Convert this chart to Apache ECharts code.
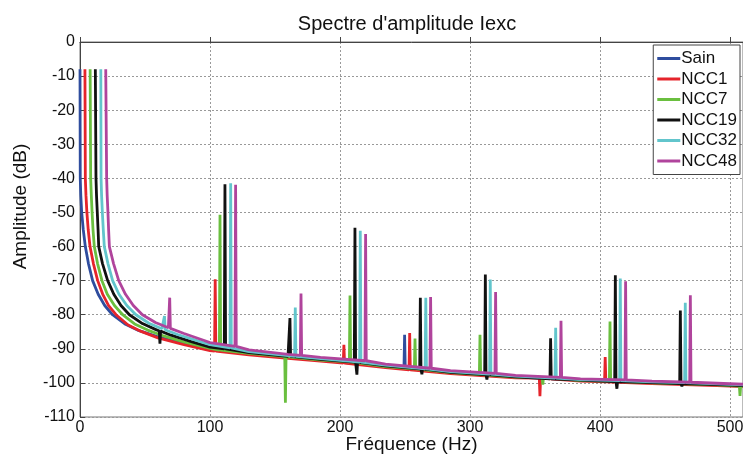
<!DOCTYPE html>
<html>
<head>
<meta charset="utf-8">
<script src="https://cdn.jsdelivr.net/npm/echarts@6/dist/echarts.min.js"></script>
<style>
  html, body { margin: 0; padding: 0; background: #fff; }
  #chart { width: 743px; height: 457px; }
</style>
</head>
<body>
<div id="chart"></div>
<script>
// libellés
const seriesNames = ['Sain', 'NCC1', 'NCC7', 'NCC19', 'NCC32', 'NCC48'];
const seriesColors = ['#2f4d9e', '#e5242b', '#6abf3f', '#111111', '#62c5cc', '#b0449c'];
const xTicks = [0, 100, 200, 300, 400, 500];
const yTicks = [0, -10, -20, -30, -40, -50, -60, -70, -80, -90, -100, -110];

// courbes de fond [f (Hz), dB]
const sainBase = [[0,-8],[0.2,-40],[0.6,-45],[1.3,-50],[2.5,-55],[4.1,-60],[6.5,-65],[9.7,-70],[14,-74],[19,-77.3],[25,-80],[35,-82.8],[45,-84.6],[60,-86.5],[80,-88.5],[100,-90.2],[130,-91.5],[160,-92.5],[185,-93.3],[235,-95.2],[285,-97],[335,-98.2],[385,-99.2],[440,-99.9],[490,-100.5],[510,-100.8]];
const ncc1Base = [[3.8,-8],[4.1,-40],[4.6,-45],[5.3,-50],[6.3,-55],[7.7,-60],[10.3,-65],[13.6,-70],[17.5,-74],[22,-77.3],[27.7,-80],[37,-83],[47,-84.9],[60,-86.8],[80,-88.8],[100,-90.5],[130,-91.8],[160,-92.8],[185,-93.6],[235,-95.5],[285,-97.3],[335,-98.5],[385,-99.5],[440,-100.2],[490,-100.8],[510,-101.1]];
const ncc7Base = [[7.8,-8],[8.2,-40],[8.7,-45],[9.3,-50],[10,-55],[11,-60],[13.5,-65],[16.9,-70],[21,-74],[26.5,-77.3],[32.8,-80],[42,-82.7],[52,-84.5],[65,-86.3],[80,-88],[100,-89.9],[130,-91.3],[160,-92.4],[185,-93.3],[235,-95.2],[285,-97],[335,-98.3],[385,-99.3],[440,-100],[490,-100.6],[510,-100.9]];
const ncc19Base = [[11.8,-8],[12.3,-40],[12.7,-45],[13.3,-50],[13.9,-55],[14.4,-60],[17.3,-65],[21.3,-70],[26,-74],[31.5,-77.3],[38,-80],[48,-82.6],[58,-84.3],[70,-86],[85,-87.8],[100,-89.5],[130,-91.1],[160,-92.2],[185,-93.1],[235,-95],[285,-96.9],[335,-98.2],[385,-99.2],[440,-99.9],[490,-100.5],[510,-100.8]];
const ncc32Base = [[16,-8],[16.2,-40],[16.6,-45],[17.2,-50],[17.9,-55],[18.7,-60],[21.5,-65],[25.1,-70],[30,-74],[36,-77.3],[43,-80],[53,-82.5],[63,-84.1],[75,-85.8],[90,-87.6],[100,-88.8],[130,-90.8],[160,-92],[185,-92.9],[235,-94.8],[285,-96.7],[335,-98],[385,-99],[440,-99.7],[490,-100.3],[510,-100.6]];
const ncc48Base = [[19.8,-8],[20.5,-40],[20.9,-45],[21.5,-50],[22,-55],[22.6,-60],[25.8,-65],[29.8,-70],[35,-74],[41,-77.3],[48,-80],[58,-82.3],[68,-83.8],[80,-85.5],[95,-87.5],[100,-88.2],[130,-90.3],[160,-91.6],[185,-92.5],[235,-94.5],[285,-96.4],[335,-97.8],[385,-98.8],[440,-99.5],[490,-100.1],[510,-100.4]];

// raies [f (Hz), niveau du fond, sommet]
const sainPeaks = [[249.7,-95.8,-85.9]];
const ncc1Peaks = [[104,-90.7,-69.6],[203,-94.2,-88.8],[253.6,-96.2,-85.4],[353.8,-98.6,-103.9],[404,-99.7,-92.4]];
const ncc7Peaks = [[107.7,-90.4,-50.7],[158,-92.3,-105.8],[207.7,-93.8,-74.4],[257.7,-95.9,-87],[307.7,-97.6,-85.9],[356,-98.4,-100.5],[407.7,-99.5,-82],[507.7,-100.9,-103.8]];
const ncc19Peaks = [[61.5,-84.8,-88.5],[111.5,-90,-41.7],[161.5,-92.2,-81],[211.5,-93.9,-54.5],[213,-93.9,-97.6],[261.8,-95.9,-75],[263,-95.9,-97.5],[311.8,-97.6,-68.2],[313,-97.6,-99],[362,-98.8,-86.9],[411.8,-99.6,-68.4],[413,-99.6,-101.7],[461.8,-100.2,-78.8],[463,-100.2,-101]];
const ncc32Peaks = [[65,-84.4,-80.4],[115.9,-89.7,-41.4],[165.6,-92.2,-77.9],[215.6,-93.9,-55.4],[266,-95.9,-75],[315.6,-97.4,-69.7],[365.9,-98.6,-83.8],[415.6,-99.3,-69.4],[465.6,-99.9,-76.5]];
const ncc48Peaks = [[69,-84,-75],[119.7,-89.3,-41.9],[170,-91.9,-73.8],[219.7,-93.5,-56.3],[269.7,-95.7,-74.8],[319.7,-97.2,-73.3],[370,-98.4,-81.8],[419.7,-99.1,-70.2],[469.5,-99.8,-74.3]];

const bases = [sainBase, ncc1Base, ncc7Base, ncc19Base, ncc32Base, ncc48Base];
const peaks = [sainPeaks, ncc1Peaks, ncc7Peaks, ncc19Peaks, ncc32Peaks, ncc48Peaks];

function build(base, spikes) {
  const pts = base.slice();
  spikes.forEach(([f, b, p]) => {
    pts.push([f - 0.5, b], [f, p], [f + 0.5, b]);
  });
  return pts.sort((a, b) => a[0] - b[0]);
}

const font = 'Liberation Sans, Arial, sans-serif';
const chart = echarts.init(document.getElementById('chart'));

const option = {
  animation: false,
  backgroundColor: '#fff',
  textStyle: { fontFamily: font },
  title: {
    text: "Spectre d'amplitude Iexc",
    left: 402,
    top: 9,
    textAlign: 'center',
    textStyle: { fontFamily: font, fontSize: 20, fontWeight: 'normal', color: '#111' }
  },
  grid: {
    left: 80, right: 0, top: 42, bottom: 40,
    outerBoundsMode: 'none',
    containLabel: false,
    show: true, borderColor: '#777', borderWidth: 1, backgroundColor: '#fff'
  },
  legend: {
    data: seriesNames,
    orient: 'vertical',
    right: 3,
    top: 45,
    icon: 'rect',
    itemWidth: 23,
    itemHeight: 3,
    itemGap: 3.5,
    padding: [5, 3, 5, 4],
    borderColor: '#444',
    borderWidth: 1,
    borderRadius: 0,
    backgroundColor: '#fff',
    textStyle: { fontFamily: font, fontSize: 17, color: '#111', lineHeight: 17, padding: [0, 0, 0, -4] }
  },
  xAxis: {
    type: 'value',
    min: 0,
    max: 510,
    interval: 100,
    name: 'Fréquence (Hz)',
    nameLocation: 'middle',
    nameGap: 18,
    nameMoveOverlap: false,
    nameTextStyle: { fontFamily: font, fontSize: 19, color: '#111', verticalAlign: 'top' },
    axisLine: { lineStyle: { color: '#444' } },
    axisTick: { inside: true, length: 5, lineStyle: { color: '#444' } },
    axisLabel: {
      fontFamily: font, fontSize: 16, color: '#111', margin: 3, showMaxLabel: false,
      formatter: v => (xTicks.indexOf(v) >= 0 ? String(v) : '')
    },
    splitLine: { show: true, lineStyle: { color: '#999', type: [2, 2], width: 1 } }
  },
  yAxis: {
    type: 'value',
    min: -110,
    max: 0,
    interval: 10,
    name: 'Amplitude (dB)',
    nameLocation: 'middle',
    nameGap: 50,
    nameMoveOverlap: false,
    nameTextStyle: { fontFamily: font, fontSize: 19, color: '#111', padding: [0, 0, 0, 46] },
    axisLine: { lineStyle: { color: '#444' } },
    axisTick: { inside: true, length: 5, lineStyle: { color: '#444' } },
    axisLabel: {
      fontFamily: font, fontSize: 16, color: '#111', margin: 5,
      formatter: v => (yTicks.indexOf(v) >= 0 ? String(v) : '')
    },
    splitLine: { show: true, lineStyle: { color: '#999', type: [2, 2], width: 1 } }
  },
  series: seriesNames.map((name, i) => ({
    name: name,
    type: 'line',
    data: build(bases[i], peaks[i]),
    showSymbol: false,
    symbol: 'none',
    clip: true,
    color: seriesColors[i],
    lineStyle: { width: 2.8, color: seriesColors[i] }
  }))
};

chart.setOption(option, true);
</script>
</body>
</html>
